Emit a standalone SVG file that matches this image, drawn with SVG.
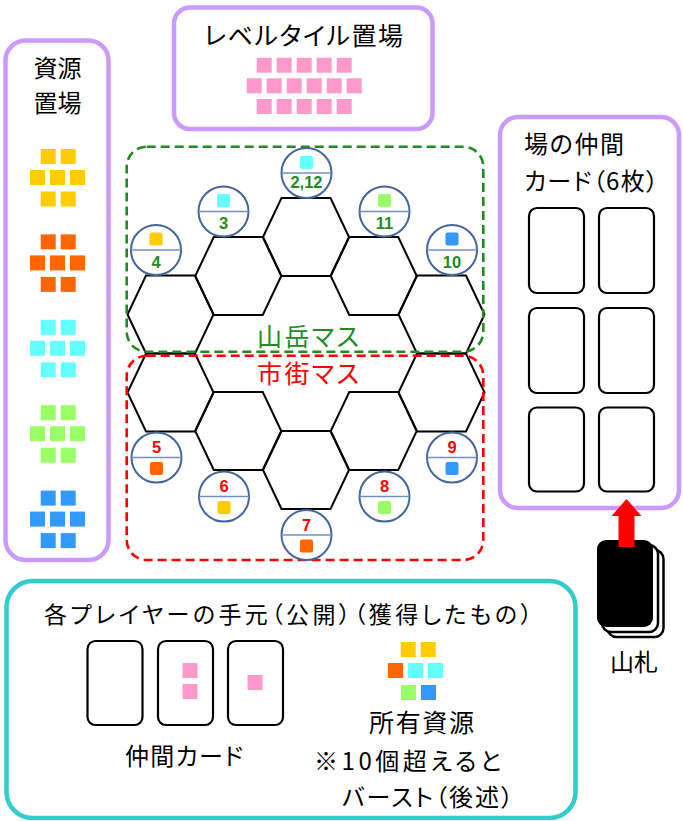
<svg xmlns="http://www.w3.org/2000/svg" width="683" height="821" viewBox="0 0 683 821">
<style>
text{font-family:"Noto Sans CJK JP","Noto Sans",sans-serif;font-feature-settings:"palt" 1;fill:#000}
.panel{fill:#fff;stroke:#CC99FF;stroke-width:4.5}
.teal{fill:#fff;stroke:#33CCCC;stroke-width:4.5}
.card{fill:#fff;stroke:#000;stroke-width:2.2}
.hex{fill:none;stroke:#000;stroke-width:2}
.tok{fill:#fff;stroke:#44669A;stroke-width:2}
.div{stroke:#7090C4;stroke-width:1.5}
.num{font-family:"Liberation Sans",Arial,sans-serif;font-weight:bold;font-size:16.5px;text-anchor:middle;font-feature-settings:normal}
.g{fill:#1E8C1E}
.r{fill:#FF0000}
.Y{fill:#FFCC00}.O{fill:#FF6600}.C{fill:#66FFFF}.L{fill:#99FF66}.B{fill:#3399FF}.P{fill:#FF99CC}
.zone{fill:none;stroke-width:2.6;stroke-dasharray:9 5}
</style>
<defs>
<polygon id="hx" points="-24.5,-39 24.5,-39 43,0 24.5,39 -24.5,39 -43,0"/>
<rect id="sq" width="15" height="15"/>
<g id="pile">
<use href="#sq" x="10.7" y="0"/><use href="#sq" x="30.7" y="0"/>
<use href="#sq" x="0" y="21"/><use href="#sq" x="20" y="21"/><use href="#sq" x="40" y="21"/>
<use href="#sq" x="10.7" y="42.5"/><use href="#sq" x="30.7" y="42.5"/>
</g>
</defs>

<g id="resource-supply">
<rect class="panel" x="5.5" y="40.5" width="103" height="519.5" rx="20"/>
<text x="57.5" y="77" font-size="24" text-anchor="middle">資源</text>
<text x="57.5" y="112" font-size="24" text-anchor="middle">置場</text>
<use href="#pile" class="Y" x="30" y="149"/>
<use href="#pile" class="O" x="30" y="234.4"/>
<use href="#pile" class="C" x="30" y="319.8"/>
<use href="#pile" class="L" x="30" y="405.2"/>
<use href="#pile" class="B" x="30" y="490.6"/>
</g>

<g id="level-tiles">
<rect class="panel" x="174" y="7.5" width="258.5" height="121.5" rx="16"/>
<text x="204" y="45" font-size="25" textLength="199">レベルタイル置場</text>
<g class="P">
<use href="#sq" x="256.7" y="57.7"/><use href="#sq" x="276.7" y="57.7"/><use href="#sq" x="296.7" y="57.7"/><use href="#sq" x="316.7" y="57.7"/><use href="#sq" x="336.7" y="57.7"/>
<use href="#sq" x="246.7" y="78.3"/><use href="#sq" x="266.7" y="78.3"/><use href="#sq" x="286.7" y="78.3"/><use href="#sq" x="306.7" y="78.3"/><use href="#sq" x="326.7" y="78.3"/><use href="#sq" x="346.7" y="78.3"/>
<use href="#sq" x="256.7" y="99"/><use href="#sq" x="276.7" y="99"/><use href="#sq" x="296.7" y="99"/><use href="#sq" x="316.7" y="99"/><use href="#sq" x="336.7" y="99"/>
</g>
</g>

<g id="hex-board">
<use href="#hx" class="hex" x="170.5" y="314.5"/>
<use href="#hx" class="hex" x="238.25" y="276"/>
<use href="#hx" class="hex" x="306" y="237"/>
<use href="#hx" class="hex" x="373.75" y="276"/>
<use href="#hx" class="hex" x="441.5" y="314.5"/>
<use href="#hx" class="hex" x="170.5" y="392.5"/>
<use href="#hx" class="hex" x="238.25" y="431"/>
<use href="#hx" class="hex" x="306" y="470"/>
<use href="#hx" class="hex" x="373.75" y="431"/>
<use href="#hx" class="hex" x="441.5" y="392.5"/>
</g>

<g id="mountain-zone">
<rect class="zone" stroke="#1E8C1E" x="126.7" y="146.7" width="356.6" height="205" rx="20"/>
<text x="257" y="346" font-size="25" textLength="102" class="g">山岳マス</text>
</g>
<g id="city-zone">
<rect class="zone" stroke="#FF0000" x="126.7" y="355.7" width="356.6" height="204.3" rx="20"/>
<text x="257" y="383" font-size="25" textLength="102" class="r">市街マス</text>
</g>

<g id="token-2-12" transform="translate(306.5,173)"><circle r="25" class="tok"/><line x1="-25" x2="25" class="div"/><rect x="-6.5" y="-17" width="13" height="13" rx="2" class="C"/><text y="15" class="num g">2,12</text></g>
<g id="token-3" transform="translate(223.5,211.5)"><circle r="25" class="tok"/><line x1="-25" x2="25" class="div"/><rect x="-6.5" y="-17.5" width="13" height="13" rx="2" class="C"/><text y="17.5" class="num g">3</text></g>
<g id="token-4" transform="translate(156,250)"><circle r="25" class="tok"/><line x1="-25" x2="25" class="div"/><rect x="-6.5" y="-17.5" width="13" height="13" rx="2" class="Y"/><text y="17.5" class="num g">4</text></g>
<g id="token-11" transform="translate(384.5,211.5)"><circle r="25" class="tok"/><line x1="-25" x2="25" class="div"/><rect x="-6.5" y="-17.5" width="13" height="13" rx="2" class="L"/><text y="17.5" class="num g">11</text></g>
<g id="token-10" transform="translate(452,250)"><circle r="25" class="tok"/><line x1="-25" x2="25" class="div"/><rect x="-6.5" y="-17.5" width="13" height="13" rx="2" class="B"/><text y="17.5" class="num g">10</text></g>
<g id="token-5" transform="translate(156.5,457.5)"><circle r="25" class="tok"/><line x1="-25" x2="25" class="div"/><text y="-4.5" class="num r">5</text><rect x="-6.5" y="4.5" width="13" height="13" rx="2" class="O"/></g>
<g id="token-6" transform="translate(224,496.5)"><circle r="25" class="tok"/><line x1="-25" x2="25" class="div"/><text y="-4.5" class="num r">6</text><rect x="-6.5" y="4.5" width="13" height="13" rx="2" class="Y"/></g>
<g id="token-7" transform="translate(306.5,535)"><circle r="25" class="tok"/><line x1="-25" x2="25" class="div"/><text y="-4.5" class="num r">7</text><rect x="-6.5" y="4.5" width="13" height="13" rx="2" class="O"/></g>
<g id="token-8" transform="translate(384.5,496.5)"><circle r="25" class="tok"/><line x1="-25" x2="25" class="div"/><text y="-4.5" class="num r">8</text><rect x="-6.5" y="4.5" width="13" height="13" rx="2" class="L"/></g>
<g id="token-9" transform="translate(452,457.5)"><circle r="25" class="tok"/><line x1="-25" x2="25" class="div"/><text y="-4.5" class="num r">9</text><rect x="-6.5" y="4.5" width="13" height="13" rx="2" class="B"/></g>

<g id="field-cards">
<rect class="panel" x="500" y="117" width="179" height="391" rx="18"/>
<text x="524" y="153" font-size="24" textLength="100">場の仲間</text>
<text x="524" y="190" font-size="24" textLength="134">カード（6枚）</text>
<rect class="card" x="529" y="208" width="55" height="85" rx="8"/>
<rect class="card" x="599" y="208" width="55" height="85" rx="8"/>
<rect class="card" x="529" y="308" width="55" height="85" rx="8"/>
<rect class="card" x="599" y="308" width="55" height="85" rx="8"/>
<rect class="card" x="529" y="407.5" width="55" height="84" rx="8"/>
<rect class="card" x="599" y="407.5" width="55" height="84" rx="8"/>
</g>

<g id="deck">
<rect x="607.5" y="550" width="56" height="87" rx="9" fill="#fff" stroke="#000" stroke-width="2.5"/>
<rect x="602" y="545" width="56" height="87" rx="9" fill="#fff" stroke="#000" stroke-width="2.5"/>
<rect x="597" y="540" width="56" height="87" rx="9" fill="#000"/>
<text x="634" y="671" font-size="24" text-anchor="middle">山札</text>
</g>

<g id="connectors">
<polygon points="626.5,499 641.5,516 634.5,516 634.5,547 618.5,547 618.5,516 611.5,516" fill="#FF0000"/>
</g>

<g id="player-area">
<rect class="teal" x="6.5" y="581" width="569" height="237" rx="26"/>
<text x="44" y="623" font-size="23" textLength="488">各プレイヤーの手元（公開）（獲得したもの）</text>
<rect class="card" x="87.5" y="641" width="55" height="84" rx="8"/>
<rect class="card" x="158" y="641" width="55" height="84" rx="8"/>
<rect class="card" x="228" y="641" width="55" height="84" rx="8"/>
<use href="#sq" class="P" x="182.5" y="663"/>
<use href="#sq" class="P" x="182.5" y="684"/>
<use href="#sq" class="P" x="247.5" y="675"/>
<text x="125" y="765" font-size="24" textLength="118">仲間カード</text>
<use href="#sq" class="Y" x="400.7" y="642"/><use href="#sq" class="Y" x="420.7" y="642"/>
<use href="#sq" class="O" x="388" y="663"/><use href="#sq" class="C" x="408" y="663"/><use href="#sq" class="C" x="428" y="663"/>
<use href="#sq" class="L" x="401" y="685"/><use href="#sq" class="B" x="421" y="685"/>
<text x="369" y="732" font-size="25" textLength="105">所有資源</text>
<text x="314" y="770" font-size="24" textLength="187">※10個超えると</text>
<text x="342" y="806" font-size="24" textLength="171">バースト（後述）</text>
</g>
</svg>
